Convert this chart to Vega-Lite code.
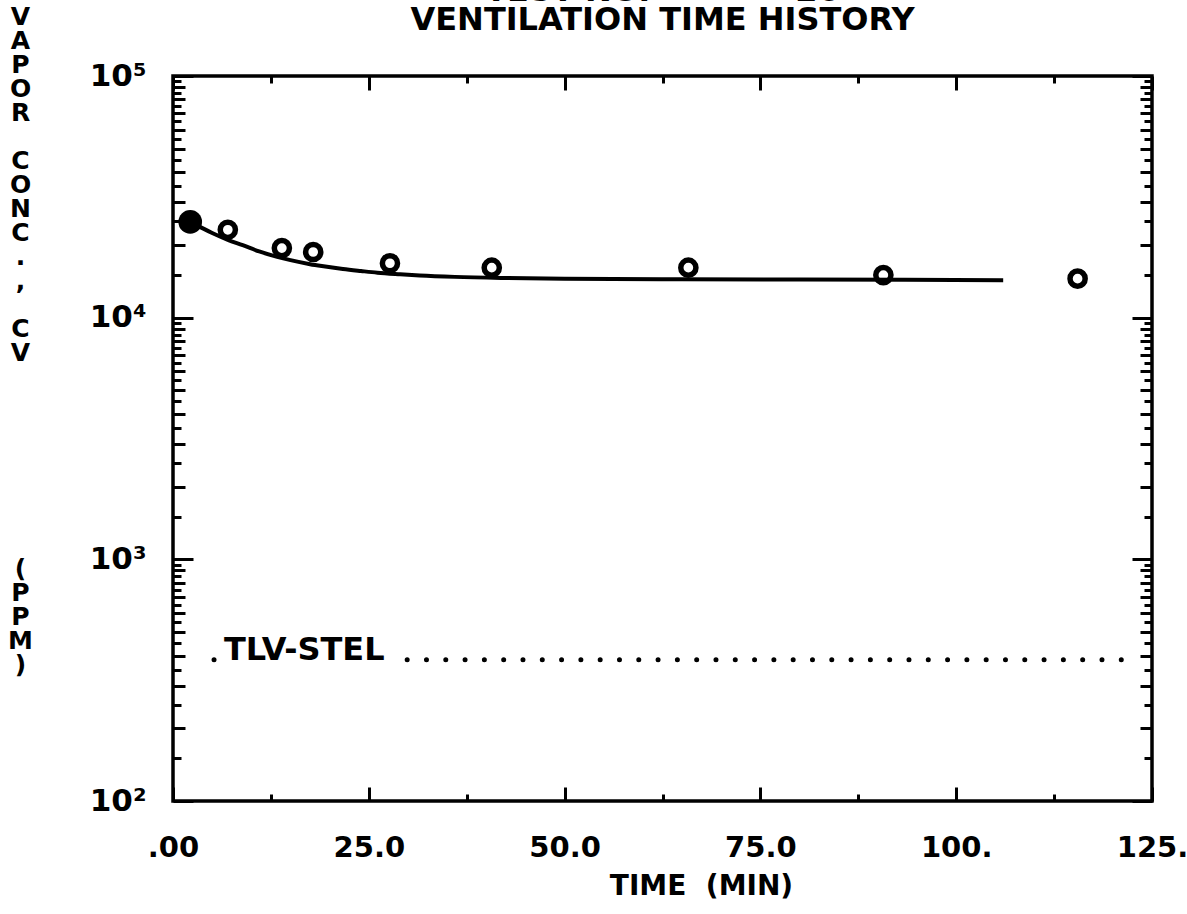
{
  "$schema": "https://vega.github.io/schema/vega-lite/v6.json",
  "width": 979,
  "height": 725,
  "autosize": "none",
  "padding": {"left": 173, "top": 76, "right": 35, "bottom": 113},
  "background": "white",
  "config": {
    "view": {"stroke": "black", "strokeWidth": 3.5},
    "font": "DejaVu Sans"
  },
  "title": {
    "text": ["TEST NO.\u00a0\u00a0\u00a0\u00a0\u00a0\u00a0\u00a0\u00a0\u00a0\u00a0\u00a0\u00a0\u00a026", "VENTILATION TIME HISTORY"],
    "font": "DejaVu Sans",
    "fontSize": 32,
    "fontWeight": "bold",
    "color": "black",
    "lineHeight": 29,
    "anchor": "middle",
    "baseline": "alphabetic",
    "offset": -58
  },
  "datasets": {
    "fit": [
      {"time": 2.2, "conc": 24900},
      {"time": 3.5, "conc": 23700},
      {"time": 5.0, "conc": 22400},
      {"time": 7.0, "conc": 21000},
      {"time": 8.9, "conc": 19950},
      {"time": 11.0, "conc": 18800},
      {"time": 13.3, "conc": 17850},
      {"time": 15.0, "conc": 17300},
      {"time": 17.5, "conc": 16650},
      {"time": 19.0, "conc": 16350},
      {"time": 21.7, "conc": 15900},
      {"time": 24.0, "conc": 15600},
      {"time": 26.1, "conc": 15350},
      {"time": 29.0, "conc": 15120},
      {"time": 31.5, "conc": 14950},
      {"time": 36.0, "conc": 14750},
      {"time": 42.0, "conc": 14600},
      {"time": 50.0, "conc": 14500},
      {"time": 65.0, "conc": 14420},
      {"time": 80.0, "conc": 14380},
      {"time": 106.0, "conc": 14300}
    ],
    "obs": [
      {"time": 7.0, "conc": 23100},
      {"time": 13.9, "conc": 19400},
      {"time": 17.9, "conc": 18700},
      {"time": 27.7, "conc": 16800},
      {"time": 40.7, "conc": 16100},
      {"time": 65.8, "conc": 16100},
      {"time": 90.7, "conc": 15000},
      {"time": 115.5, "conc": 14500}
    ],
    "initial": [
      {"time": 2.2, "conc": 24900}
    ],
    "tlv": [
      {"start": 5.24, "end": 5.26, "conc": 384},
      {"start": 29.9, "end": 121.1, "conc": 384}
    ],
    "tlvlabel": [
      {"time": 6.5, "conc": 384, "label": "TLV-STEL"}
    ]
  },
  "resolve": {"axis": {"x": "independent", "y": "independent"}},
  "layer": [
    {
      "data": {"name": "fit"},
      "mark": {"type": "line", "color": "black", "strokeWidth": 4, "interpolate": "monotone"},
      "encoding": {
        "x": {
          "field": "time", "type": "quantitative",
          "scale": {"domain": [0, 125], "nice": false, "zero": false},
          "axis": {
            "orient": "bottom",
            "values": [0, 12.5, 25, 37.5, 50, 62.5, 75, 87.5, 100, 112.5, 125],
            "domain": false, "grid": false,
            "tickColor": "black", "tickWidth": 3,
            "tickSize": {"condition": {"test": "datum.value % 25 === 0", "value": -14}, "value": -7},
            "labelExpr": "datum.value % 25 !== 0 ? '' : datum.value === 0 ? '.00' : datum.value < 100 ? format(datum.value, '.1f') : format(datum.value, 'd') + '.'",
            "labelFont": "DejaVu Sans", "labelFontSize": 29, "labelFontWeight": "bold", "labelColor": "black",
            "labelPadding": 46, "labelBaseline": "top", "labelFlush": false, "labelOverlap": false, "labelBound": false,
            "title": "TIME\u00a0 (MIN)",
            "titleFont": "DejaVu Sans", "titleFontSize": 28, "titleFontWeight": "bold", "titleColor": "black",
            "titleX": 528, "titleY": 85, "titleBaseline": "middle", "titleAlign": "center", "titleAnchor": null
          }
        },
        "y": {
          "field": "conc", "type": "quantitative",
          "scale": {"type": "log", "domain": [100, 100000], "nice": false},
          "axis": {
            "orient": "left",
            "values": [100,150,200,250,300,350,400,450,500,550,600,650,700,750,800,850,900,950,1000,1500,2000,2500,3000,3500,4000,4500,5000,5500,6000,6500,7000,7500,8000,8500,9000,9500,10000,15000,20000,25000,30000,35000,40000,45000,50000,55000,60000,65000,70000,75000,80000,85000,90000,95000,100000],
            "domain": false, "grid": false,
            "tickColor": "black", "tickWidth": 3,
            "tickSize": {"condition": [
              {"test": "indexof([100,1000,10000,100000], datum.value) >= 0", "value": -20},
              {"test": "datum.value % pow(10, floor(log(datum.value) / LN10 + 1e-9)) === 0", "value": -12}
            ], "value": -8},
            "labelExpr": "datum.value === 100 ? '10²' : datum.value === 1000 ? '10³' : datum.value === 10000 ? '10⁴' : datum.value === 100000 ? '10⁵' : ''",
            "labelFont": "DejaVu Sans", "labelFontSize": 31, "labelFontWeight": "bold", "labelColor": "black",
            "labelPadding": 47, "labelBaseline": "middle", "labelAlign": "right", "labelFlush": false, "labelOverlap": false, "labelBound": false,
            "title": ["V","A","P","O","R","\u2800","C","O","N","C",".",",","\u2800","C","V","\u2800","\u2800","\u2800","\u2800","\u2800","\u2800","\u2800","\u2800","(","P","P","M",")"],
            "titleFont": "DejaVu Sans", "titleFontSize": 25, "titleFontWeight": "bold", "titleColor": "black",
            "titleAngle": 0, "titleLineHeight": 24, "titleX": -153, "titleY": -72, "titleBaseline": "top", "titleAlign": "center", "titleAnchor": null
          }
        }
      }
    },
    {
      "data": {"name": "obs"},
      "mark": {"type": "point", "shape": "circle", "filled": false, "stroke": "black", "strokeWidth": 5.5, "size": 230, "opacity": 1},
      "encoding": {
        "x": {
          "field": "time", "type": "quantitative",
          "axis": {
            "orient": "top",
            "values": [0, 12.5, 25, 37.5, 50, 62.5, 75, 87.5, 100, 112.5, 125],
            "domain": false, "grid": false, "labels": false, "title": null,
            "tickColor": "black", "tickWidth": 3,
            "tickSize": {"condition": {"test": "datum.value % 25 === 0", "value": -14}, "value": -7}
          }
        },
        "y": {
          "field": "conc", "type": "quantitative",
          "axis": {
            "orient": "right",
            "values": [100,150,200,250,300,350,400,450,500,550,600,650,700,750,800,850,900,950,1000,1500,2000,2500,3000,3500,4000,4500,5000,5500,6000,6500,7000,7500,8000,8500,9000,9500,10000,15000,20000,25000,30000,35000,40000,45000,50000,55000,60000,65000,70000,75000,80000,85000,90000,95000,100000],
            "domain": false, "grid": false, "labels": false, "title": null,
            "tickColor": "black", "tickWidth": 3,
            "tickSize": {"condition": [
              {"test": "indexof([100,1000,10000,100000], datum.value) >= 0", "value": -20},
              {"test": "datum.value % pow(10, floor(log(datum.value) / LN10 + 1e-9)) === 0", "value": -12}
            ], "value": -8}
          }
        }
      }
    },
    {
      "data": {"name": "initial"},
      "mark": {"type": "point", "shape": "circle", "filled": true, "color": "black", "size": 560, "opacity": 1},
      "encoding": {
        "x": {"field": "time", "type": "quantitative", "axis": null},
        "y": {"field": "conc", "type": "quantitative", "axis": null}
      }
    },
    {
      "data": {"name": "tlv"},
      "mark": {"type": "rule", "color": "black", "strokeWidth": 5, "strokeCap": "round", "strokeDash": [0, 19.3]},
      "encoding": {
        "x": {"field": "start", "type": "quantitative", "axis": null},
        "x2": {"field": "end"},
        "y": {"field": "conc", "type": "quantitative", "axis": null}
      }
    },
    {
      "data": {"name": "tlvlabel"},
      "mark": {"type": "text", "align": "left", "baseline": "alphabetic", "font": "DejaVu Sans", "fontSize": 32, "fontWeight": "bold", "color": "black"},
      "encoding": {
        "x": {"field": "time", "type": "quantitative", "axis": null},
        "y": {"field": "conc", "type": "quantitative", "axis": null},
        "text": {"field": "label"}
      }
    }
  ]
}
